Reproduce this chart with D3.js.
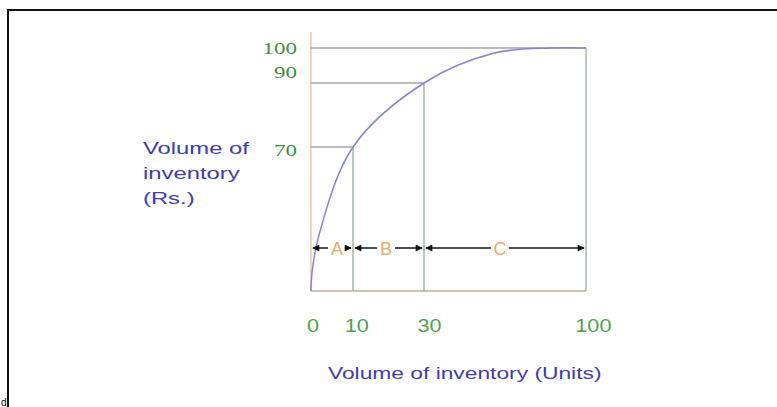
<!DOCTYPE html>
<html>
<head>
<meta charset="utf-8">
<script src="https://cdn.jsdelivr.net/npm/d3@7"></script>
<style>
  body { margin: 0; background: #fff; }
  text { font-family: Arial, "Liberation Sans", sans-serif; }
</style>
</head>
<body>
<div id="chart"></div>
<script>
// values
const xTicks = [0, 10, 30, 100];
const yTicks = [70, 90, 100];
const curve = [
  [0, 0], [0.3, 10], [2, 28], [10, 70], [30, 90], [60, 98.5], [85, 100], [100, 100]
];
const classes = [
  {label: "A", from: 0, to: 10, mid: 6.2},
  {label: "B", from: 10, to: 30, mid: 19.3},
  {label: "C", from: 30, to: 100, mid: 62.8}
];
const yTitle = ["Volume of", "inventory", "(Rs.)"];
const xTitle = "Volume of inventory  (Units)";

const width = 777, height = 407;

// the original drawing isn't evenly spaced, so piecewise scales
const x = d3.scaleLinear().domain(xTicks).range([311, 353, 424, 586]);
const y = d3.scaleLinear().domain([0, 70, 90, 100]).range([291, 147, 83, 48]);

const svg = d3.select("#chart").append("svg")
    .attr("width", width)
    .attr("height", height);

// the picture is stretched sideways, so stretch the text too
function stretch(sel, k) {
  sel.each(function() {
    const len = this.getComputedTextLength();
    d3.select(this).attr("textLength", len * k).attr("lengthAdjust", "spacingAndGlyphs");
  });
}

// frame
svg.append("path")
    .attr("d", `M8,${height} V10 H${width}`)
    .attr("fill", "none")
    .attr("stroke", "#111")
    .attr("stroke-width", 2);
svg.append("text")
    .attr("x", 1).attr("y", 406)
    .style("font-size", "10px")
    .text("d");

const defs = svg.append("defs");
defs.append("marker")
    .attr("id", "head")
    .attr("viewBox", "0 0 10 10")
    .attr("refX", 9).attr("refY", 5)
    .attr("markerWidth", 9).attr("markerHeight", 7)
    .attr("markerUnits", "userSpaceOnUse")
    .attr("orient", "auto-start-reverse")
  .append("path")
    .attr("d", "M0,0 L10,5 L0,10 Z")
    .attr("fill", "#111");

// axes
svg.append("line")
    .attr("x1", x(0)).attr("x2", x(0))
    .attr("y1", 32).attr("y2", y(0))
    .attr("stroke", "#f2c6a8").attr("stroke-width", 1.5);
svg.append("line")
    .attr("x1", x(0)).attr("x2", x(100))
    .attr("y1", y(0)).attr("y2", y(0))
    .attr("stroke", "#c8aa98").attr("stroke-width", 1.5);

// guide lines: 10 -> 70, 30 -> 90, 100 -> 100
const pairs = [[10, 70], [30, 90], [100, 100]];
svg.append("g").selectAll("line")
  .data(pairs)
  .join("line")
    .attr("x1", x(0)).attr("x2", d => x(d[0]))
    .attr("y1", d => y(d[1])).attr("y2", d => y(d[1]))
    .attr("stroke", "#a4a4ac").attr("stroke-width", 1.3);
svg.append("g").selectAll("line")
  .data(pairs)
  .join("line")
    .attr("x1", d => x(d[0])).attr("x2", d => x(d[0]))
    .attr("y1", d => y(d[1])).attr("y2", y(0))
    .attr("stroke", "#98ac98").attr("stroke-width", 1.3);

// curve
svg.append("path")
    .datum(curve)
    .attr("fill", "none")
    .attr("stroke", "#8484d4")
    .attr("stroke-width", 1.5)
    .attr("d", d3.line().x(d => x(d[0])).y(d => y(d[1])).curve(d3.curveCatmullRom.alpha(0.5)));

// y tick labels (90 sits above its line)
const yOff = {70: 9, 90: -5, 100: 6};
svg.append("g").selectAll("text")
  .data(yTicks)
  .join("text")
    .attr("x", 297)
    .attr("y", d => y(d) + yOff[d])
    .attr("text-anchor", "end")
    .style("font-family", "'Liberation Serif', 'Times New Roman', serif")
    .style("font-size", "17px")
    .attr("fill", "#3f8f3f")
    .text(d => d)
    .call(stretch, 1.35);

// x tick labels
svg.append("g").selectAll("text")
  .data(xTicks)
  .join("text")
    .attr("x", (d, i) => x(d) + 2 + i * 1.8)
    .attr("y", 332)
    .attr("text-anchor", "middle")
    .style("font-size", "18px")
    .attr("fill", "#4f9f4f")
    .text(d => d)
    .call(stretch, 1.2);

// ABC arrows
const arrowY = 248;
const gap = 9;
const arrows = svg.append("g");
arrows.selectAll(".left")
  .data(classes)
  .join("line")
    .attr("class", "left")
    .attr("x1", d => x(d.mid) - gap).attr("x2", d => x(d.from) + 2)
    .attr("y1", arrowY).attr("y2", arrowY)
    .attr("stroke", "#111").attr("stroke-width", 1.5)
    .attr("marker-end", "url(#head)");
arrows.selectAll(".right")
  .data(classes)
  .join("line")
    .attr("class", "right")
    .attr("x1", d => x(d.mid) + gap).attr("x2", d => x(d.to) - 2)
    .attr("y1", arrowY).attr("y2", arrowY)
    .attr("stroke", "#111").attr("stroke-width", 1.5)
    .attr("marker-end", "url(#head)");
arrows.selectAll("text")
  .data(classes)
  .join("text")
    .attr("x", d => x(d.mid))
    .attr("y", arrowY + 7)
    .attr("text-anchor", "middle")
    .style("font-size", "18px")
    .attr("fill", "#f0a868")
    .text(d => d.label);

// axis titles
svg.append("g").selectAll("text")
  .data(yTitle)
  .join("text")
    .attr("x", 143)
    .attr("y", (d, i) => 154 + i * 25)
    .style("font-size", "17px")
    .attr("fill", "#3c3cb4")
    .text(d => d)
    .call(stretch, 1.4);

svg.append("text")
    .attr("x", 328)
    .attr("y", 379)
    .style("font-size", "17px")
    .attr("fill", "#3c3cb4")
    .text(xTitle)
    .call(stretch, 1.34);
</script>
</body>
</html>
